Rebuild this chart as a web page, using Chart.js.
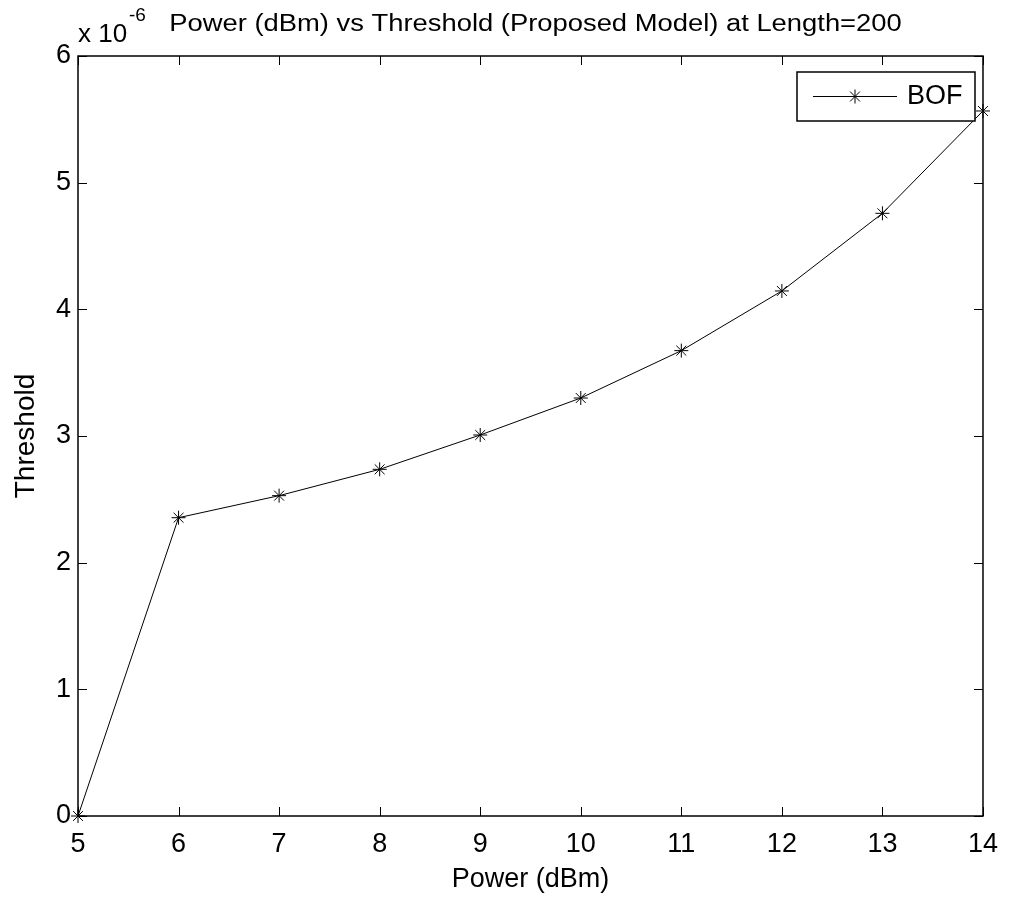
<!DOCTYPE html>
<html>
<head>
<meta charset="utf-8">
<title>Power vs Threshold</title>
<script src="https://cdn.jsdelivr.net/npm/chart.js@4.4.0/dist/chart.umd.min.js"></script>
<style>
    html, body { margin: 0; padding: 0; background: #fff; }
    #wrap { width: 1010px; height: 899px; }
</style>
</head>
<body>
<div id="wrap"><canvas id="thresholdChart" width="1010" height="899"></canvas></div>
<script>
// data (threshold dalam satuan 1e-6)
const powerDbm = [5, 6, 7, 8, 9, 10, 11, 12, 13, 14];
const thresholdE6 = [0, 2.355, 2.529, 2.737, 3.008, 3.30, 3.674, 4.145, 4.758, 5.566];
const seriesName = 'BOF';
const xTicks = [5, 6, 7, 8, 9, 10, 11, 12, 13, 14];
const yTicks = [0, 1, 2, 3, 4, 5, 6];

const FONT = "'Liberation Sans', Arial, Helvetica, sans-serif";

// kotak sumbu + tick ke dalam ala MATLAB, judul, eksponen, legenda
const matlabFrame = {
    id: 'matlabFrame',
    afterDatasetsDraw(chart) {
        const { ctx, chartArea: a, scales } = chart;
        const tl = 9;
        ctx.save();
        ctx.strokeStyle = '#000';
        ctx.lineWidth = 1;
        ctx.beginPath();
        xTicks.forEach(v => {
            const px = Math.round(scales.x.getPixelForValue(v)) + 0.5;
            ctx.moveTo(px, a.bottom); ctx.lineTo(px, a.bottom - tl);
            ctx.moveTo(px, a.top); ctx.lineTo(px, a.top + tl);
        });
        yTicks.forEach(v => {
            const py = Math.round(scales.y.getPixelForValue(v)) + 0.5;
            ctx.moveTo(a.left, py); ctx.lineTo(a.left + tl, py);
            ctx.moveTo(a.right, py); ctx.lineTo(a.right - tl, py);
        });
        ctx.stroke();
        ctx.lineWidth = 1.5;
        ctx.strokeRect(a.left, a.top, a.right - a.left, a.bottom - a.top);

        // legenda
        const lx = 797, ly = 72, lw = 178, lh = 49;
        ctx.fillStyle = '#fff';
        ctx.fillRect(lx, ly, lw, lh);
        ctx.lineWidth = 1.5;
        ctx.strokeRect(lx, ly, lw, lh);
        ctx.lineWidth = 1;
        ctx.beginPath();
        ctx.moveTo(813, 96.5); ctx.lineTo(897, 96.5);
        ctx.stroke();
        Chart.helpers.drawPoint(ctx, { pointStyle: 'star', radius: 7, rotation: 0, borderWidth: 1 }, 855, 96.5);
        ctx.fillStyle = '#000';
        ctx.font = '27px ' + FONT;
        ctx.textAlign = 'left';
        ctx.textBaseline = 'middle';
        ctx.fillText(seriesName, 907, 97);

        // judul dan faktor skala
        ctx.textBaseline = 'alphabetic';
        ctx.save();
        ctx.translate((a.left + a.right) / 2 + 5, 31);
        ctx.scale(1.19, 1);
        ctx.textAlign = 'center';
        ctx.font = '23px ' + FONT;
        ctx.fillText('Power (dBm) vs Threshold (Proposed Model) at Length=200', 0, 0);
        ctx.restore();
        ctx.textAlign = 'left';
        ctx.font = '26px ' + FONT;
        ctx.fillText('x 10', 78, 42);
        ctx.font = '19px ' + FONT;
        ctx.fillText('-6', 129, 21);
        ctx.restore();
    }
};

document.addEventListener('DOMContentLoaded', () => {
    const ctx = document.getElementById('thresholdChart').getContext('2d');
    const chart = new Chart(ctx, {
        type: 'line',
        data: {
            datasets: [{
                label: seriesName,
                data: powerDbm.map((p, i) => ({ x: p, y: thresholdE6[i] })),
                borderColor: '#000',
                backgroundColor: '#000',
                borderWidth: 1,
                tension: 0,
                pointStyle: 'star',
                pointRadius: 7,
                pointBorderWidth: 1,
                pointBorderColor: '#000',
                clip: false
            }]
        },
        options: {
            responsive: false,
            animation: false,
            events: [],
            layout: { padding: { top: 56, right: 23, left: 0, bottom: 0 } },
            plugins: {
                legend: { display: false },
                title: { display: false },
                tooltip: { enabled: false }
            },
            scales: {
                x: {
                    type: 'linear',
                    min: 5,
                    max: 14,
                    afterFit: s => { s.height = 83; },
                    afterBuildTicks: s => { s.ticks = xTicks.map(v => ({ value: v })); },
                    grid: { display: false, drawTicks: false },
                    border: { display: false },
                    ticks: { color: '#000', padding: 12, maxRotation: 0, font: { family: FONT, size: 27 } },
                    title: {
                        display: true,
                        text: 'Power (dBm)',
                        color: '#000',
                        font: { family: FONT, size: 27 },
                        padding: { top: 0, bottom: 3 }
                    }
                },
                y: {
                    type: 'linear',
                    min: 0,
                    max: 6,
                    afterFit: s => { s.width = 78; },
                    afterBuildTicks: s => { s.ticks = yTicks.map(v => ({ value: v })); },
                    grid: { display: false, drawTicks: false },
                    border: { display: false },
                    ticks: { color: '#000', padding: 7, font: { family: FONT, size: 27 } },
                    title: {
                        display: true,
                        text: 'Threshold',
                        color: '#000',
                        font: { family: FONT, size: 28 },
                        padding: { top: 9, bottom: 0 }
                    }
                }
            }
        },
        plugins: [matlabFrame]
    });
});
</script>
</body>
</html>
